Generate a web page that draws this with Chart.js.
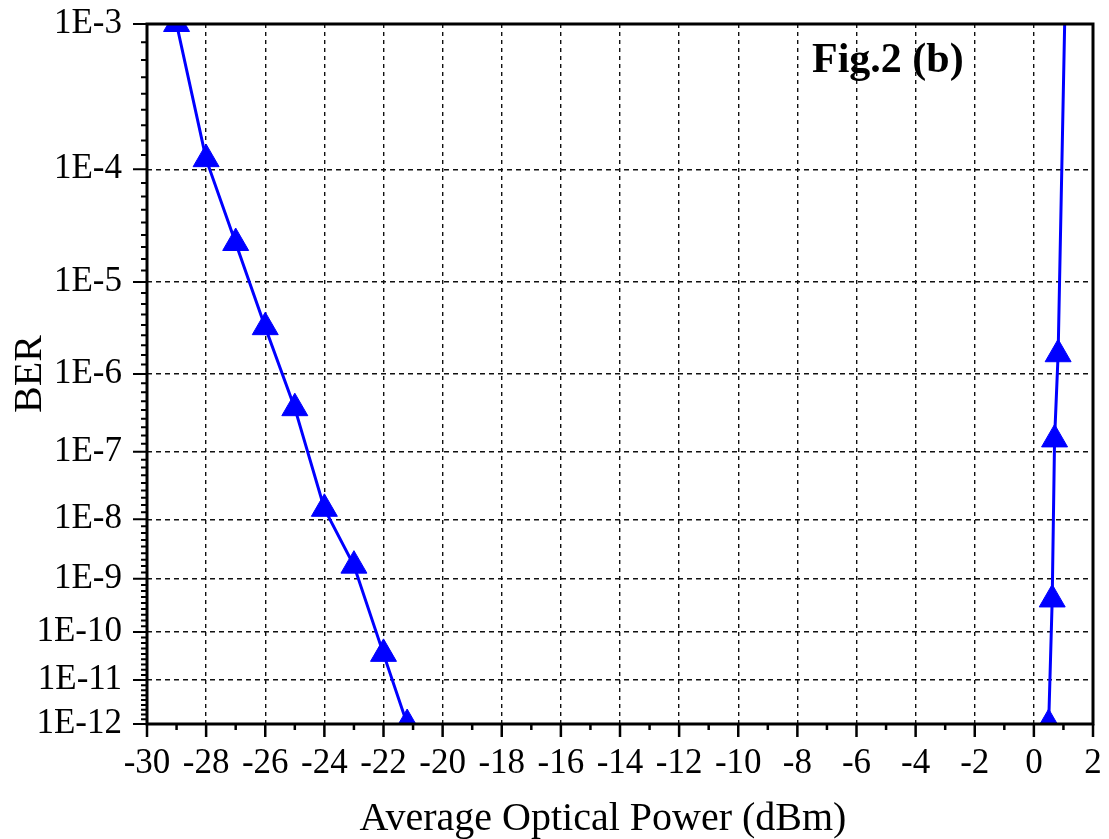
<!DOCTYPE html>
<html>
<head>
<meta charset="utf-8">
<script src="https://cdn.jsdelivr.net/npm/chart.js@4.4.1/dist/chart.umd.min.js"></script>
<style>
  html, body { margin: 0; padding: 0; background: #fff; }
  #wrap { width: 1109px; height: 839px; }
</style>
</head>
<body>
<div id="wrap"><canvas id="ber"></canvas></div>
<script>
// curve on the left (back-to-back style)
const powerA = [-29, -28, -27, -26, -25, -24, -23, -22, -21.2];
const berA = [1e-3, 1.2e-4, 2.35e-5, 3.4e-6, 3.8e-7, 1.46e-8, 1.7e-9, 3.6e-11, 1e-12];

// curve on the right
const powerB = [0.5, 0.62, 0.7, 0.82, 1.1];
const berB = [1e-12, 4.2e-10, 1.48e-7, 1.7e-6, 3e-3];

// axes
const xMin = -30, xMax = 2, xStep = 2;
const berExponents = [3, 4, 5, 6, 7, 8, 9, 10, 11, 12];
const yTickLabels = berExponents.map(n => '1E-' + n);

const figLabel = 'Fig.2 (b)';
const xTitle = 'Average Optical Power (dBm)';
const yTitle = 'BER';

const FONT = "'Liberation Serif', 'Times New Roman', serif";

// BER axis is log(-log(BER)), like Origin's probability scale
const toScale = ber => Math.log10(-Math.log10(ber));
const toPoints = (xs, bers) => xs.map((x, i) => ({ x, y: toScale(bers[i]) }));

const seriesStyle = {
  borderColor: '#0000ff',
  backgroundColor: '#0000ff',
  borderWidth: 3,
  pointStyle: 'triangle',
  pointRadius: 15,
  pointBorderWidth: 1,
  tension: 0,
  clip: 0
};

// frame, tick marks and the free texts
const framePlugin = {
  id: 'frame',
  afterDraw(chart) {
    const { ctx, chartArea: a, scales: { x, y } } = chart;
    ctx.save();
    ctx.strokeStyle = '#000';
    ctx.lineWidth = 2.5;
    ctx.beginPath();
    for (let v = xMin; v <= xMax; v += 1) {
      const px = x.getPixelForValue(v);
      const len = v % 2 === 0 ? 13 : 6;
      ctx.moveTo(px, a.bottom);
      ctx.lineTo(px, a.bottom + len);
    }
    ctx.stroke();

    ctx.lineWidth = 2;
    ctx.beginPath();
    berExponents.forEach((n, i) => {
      const py = y.getPixelForValue(Math.log10(n));
      ctx.moveTo(a.left, py);
      ctx.lineTo(a.left - 14, py);
      if (i < berExponents.length - 1) {
        for (let k = 1; k <= 8; k++) {
          const pm = y.getPixelForValue(Math.log10(n + k / 9));
          ctx.moveTo(a.left, pm);
          ctx.lineTo(a.left - 6, pm);
        }
      }
    });
    ctx.stroke();

    ctx.lineWidth = 3;
    ctx.strokeRect(a.left, a.top, a.right - a.left, a.bottom - a.top);

    ctx.fillStyle = '#000';
    ctx.textBaseline = 'alphabetic';
    ctx.font = 'bold 42px ' + FONT;
    ctx.textAlign = 'left';
    ctx.fillText(figLabel, a.left + 665, a.top + 48);

    ctx.font = '40px ' + FONT;
    ctx.textAlign = 'center';
    ctx.fillText(xTitle, a.left + 456, chart.height - 9);
    ctx.restore();
  }
};

new Chart(document.getElementById('ber'), {
  type: 'line',
  data: {
    datasets: [
      { data: toPoints(powerA, berA), ...seriesStyle },
      { data: toPoints(powerB, berB), ...seriesStyle }
    ]
  },
  options: {
    responsive: true,
    maintainAspectRatio: false,
    animation: false,
    layout: { padding: { top: 24, right: 12, left: 0, bottom: 0 } },
    plugins: {
      legend: { display: false },
      tooltip: { enabled: false }
    },
    scales: {
      x: {
        type: 'linear',
        min: xMin,
        max: xMax,
        afterFit: s => {
          s.height = 115;
          s.paddingLeft = 0;
          s.paddingRight = 0;
        },
        ticks: {
          stepSize: xStep,
          autoSkip: false,
          maxRotation: 0,
          padding: 19,
          color: '#000',
          font: { family: FONT, size: 35 }
        },
        grid: { color: '#111', lineWidth: 1.4, drawTicks: false },
        border: { display: false, dash: [4, 4] }
      },
      y: {
        type: 'linear',
        reverse: true,
        min: Math.log10(berExponents[0]),
        max: Math.log10(berExponents[berExponents.length - 1]),
        afterFit: s => {
          s.width = 147;
          s.paddingTop = 0;
          s.paddingBottom = 0;
        },
        afterBuildTicks: s => {
          s.ticks = berExponents.map(n => ({ value: Math.log10(n) }));
        },
        ticks: {
          autoSkip: false,
          padding: 25,
          color: '#000',
          font: { family: FONT, size: 35 },
          callback: (v, i) => yTickLabels[i]
        },
        grid: { color: '#111', lineWidth: 1.4, drawTicks: false },
        border: { display: false, dash: [5, 4] },
        title: {
          display: true,
          text: yTitle,
          color: '#000',
          font: { family: FONT, size: 40, lineHeight: 1 },
          padding: { top: 10, bottom: 0 }
        }
      }
    }
  },
  plugins: [framePlugin]
});
</script>
</body>
</html>
